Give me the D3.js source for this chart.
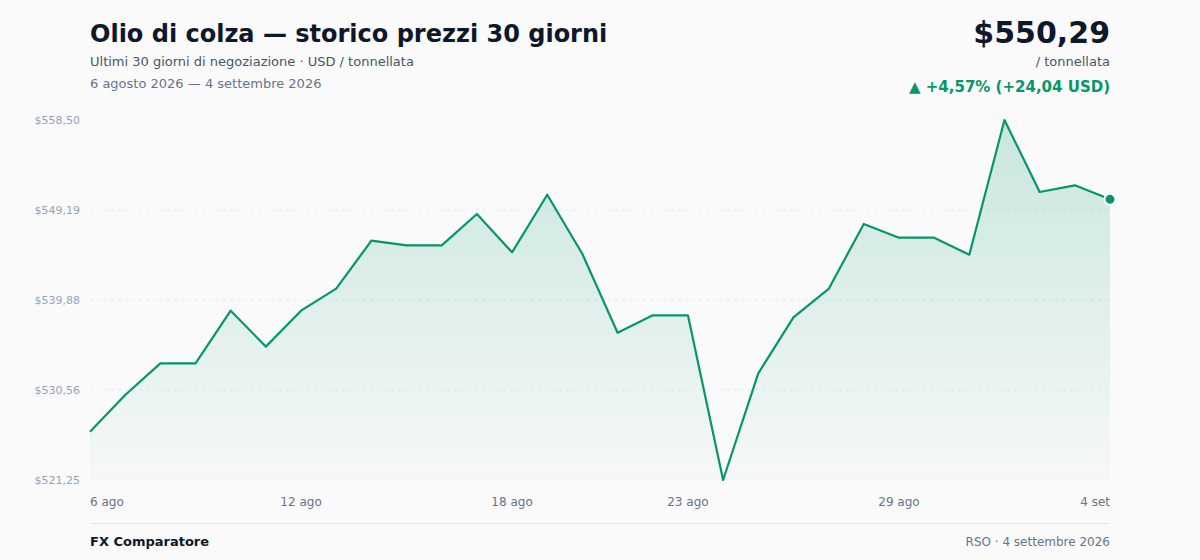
<!DOCTYPE html>
<html>
<head>
<meta charset="utf-8">
<script src="https://cdn.jsdelivr.net/npm/d3@7"></script>
<style>
  html, body { margin: 0; padding: 0; background: #fafafa; }
  svg { display: block; font-family: "DejaVu Sans", sans-serif; }
</style>
</head>
<body>
<div id="chart"></div>
<script>
// Data
const dayLabels = ["6 ago","7 ago","8 ago","9 ago","10 ago","11 ago","12 ago","13 ago","14 ago","15 ago",
  "16 ago","17 ago","18 ago","19 ago","20 ago","21 ago","22 ago","23 ago","24 ago","25 ago",
  "26 ago","27 ago","28 ago","29 ago","30 ago","31 ago","1 set","2 set","3 set","4 set"];
const prices = [526.25, 530.04, 533.32, 533.32, 538.77, 535.05, 538.77, 541.05, 546.01, 545.53,
  545.53, 548.77, 544.81, 550.77, 544.63, 536.49, 538.29, 538.29, 521.25, 532.29,
  538.08, 541.02, 547.74, 546.32, 546.32, 544.56, 558.50, 551.05, 551.74, 550.29];
const yTicks = [521.25, 530.56, 539.88, 549.19, 558.50];
const xTickIdx = [0, 6, 12, 17, 23, 29];

// Colors
const lineColor = "#059669";
const gridColor = "#e2e8f0";
const textDark = "#0f172a";
const textMid = "#475569";
const textLight = "#64748b";
const tickColor = "#94a3b8";

// Dimensions
const width = 1200, height = 560;
const plotLeft = 90, plotRight = 1110, plotTop = 120, plotBottom = 480;

const fmt = v => "$" + v.toFixed(2).replace(".", ",");

const svg = d3.select("#chart").append("svg")
  .attr("width", width)
  .attr("height", height);

svg.append("rect").attr("width", width).attr("height", height).attr("fill", "#fafafa");

const x = d3.scaleLinear().domain([0, prices.length - 1]).range([plotLeft, plotRight]);
const y = d3.scaleLinear().domain([d3.min(prices), d3.max(prices)]).range([plotBottom, plotTop]);

// Header
svg.append("text").attr("x", 90).attr("y", 42)
  .attr("font-size", 24).attr("font-weight", "bold").attr("fill", textDark)
  .text("Olio di colza — storico prezzi 30 giorni");
svg.append("text").attr("x", 90).attr("y", 66)
  .attr("font-size", 13).attr("fill", textMid)
  .text("Ultimi 30 giorni di negoziazione · USD / tonnellata");
svg.append("text").attr("x", 90).attr("y", 88)
  .attr("font-size", 13).attr("fill", textLight)
  .text("6 agosto 2026 — 4 settembre 2026");

const last = prices[prices.length - 1];
const diff = last - prices[0];
const pct = diff / prices[0] * 100;
svg.append("text").attr("x", plotRight).attr("y", 43).attr("text-anchor", "end")
  .attr("font-size", 30).attr("font-weight", "bold").attr("fill", textDark)
  .text(fmt(last));
svg.append("text").attr("x", plotRight).attr("y", 66).attr("text-anchor", "end")
  .attr("font-size", 13).attr("fill", textMid)
  .text("/ tonnellata");
svg.append("text").attr("x", plotRight).attr("y", 92).attr("text-anchor", "end")
  .attr("font-size", 15).attr("font-weight", "bold").attr("fill", lineColor)
  .text(`▲ +${pct.toFixed(2).replace(".", ",")}% (+${diff.toFixed(2).replace(".", ",")} USD)`);

// Gradient
const defs = svg.append("defs");
const grad = defs.append("linearGradient").attr("id", "areaGrad")
  .attr("x1", 0).attr("y1", 0).attr("x2", 0).attr("y2", 1);
grad.append("stop").attr("offset", "0%").attr("stop-color", lineColor).attr("stop-opacity", 0.2);
grad.append("stop").attr("offset", "100%").attr("stop-color", lineColor).attr("stop-opacity", 0.02);

// Grid + y labels
const yAxis = svg.append("g");
yAxis.selectAll("line").data(yTicks).enter().append("line")
  .attr("x1", plotLeft).attr("x2", plotRight)
  .attr("y1", d => y(d)).attr("y2", d => y(d))
  .attr("stroke", gridColor).attr("stroke-width", 1).attr("stroke-dasharray", "3,4");
yAxis.selectAll("text").data(yTicks).enter().append("text")
  .attr("x", 80).attr("y", d => y(d)).attr("dy", "0.35em")
  .attr("text-anchor", "end").attr("font-size", 11).attr("fill", tickColor)
  .text(fmt);

// Area + line
const area = d3.area().x((d, i) => x(i)).y0(plotBottom).y1(d => y(d));
const line = d3.line().x((d, i) => x(i)).y(d => y(d));

svg.append("path").datum(prices).attr("d", area).attr("fill", "url(#areaGrad)");
svg.append("path").datum(prices).attr("d", line)
  .attr("fill", "none").attr("stroke", lineColor).attr("stroke-width", 2.2)
  .attr("stroke-linejoin", "round");

svg.append("circle").attr("cx", x(prices.length - 1)).attr("cy", y(last)).attr("r", 5.5)
  .attr("fill", lineColor).attr("stroke", "#ffffff").attr("stroke-width", 2);

// X labels
svg.append("g").selectAll("text").data(xTickIdx).enter().append("text")
  .attr("x", d => x(d)).attr("y", 506)
  .attr("text-anchor", (d, i) => i === 0 ? "start" : (i === xTickIdx.length - 1 ? "end" : "middle"))
  .attr("font-size", 12).attr("fill", textLight)
  .text(d => dayLabels[d]);

// Footer
svg.append("line").attr("x1", plotLeft).attr("x2", plotRight).attr("y1", 523.5).attr("y2", 523.5)
  .attr("stroke", "#e5e7eb").attr("stroke-width", 1);
svg.append("text").attr("x", plotLeft).attr("y", 546)
  .attr("font-size", 13).attr("font-weight", "bold").attr("fill", textDark)
  .text("FX Comparatore");
svg.append("text").attr("x", plotRight).attr("y", 546).attr("text-anchor", "end")
  .attr("font-size", 12).attr("fill", textLight)
  .text("RSO · 4 settembre 2026");
</script>
</body>
</html>
